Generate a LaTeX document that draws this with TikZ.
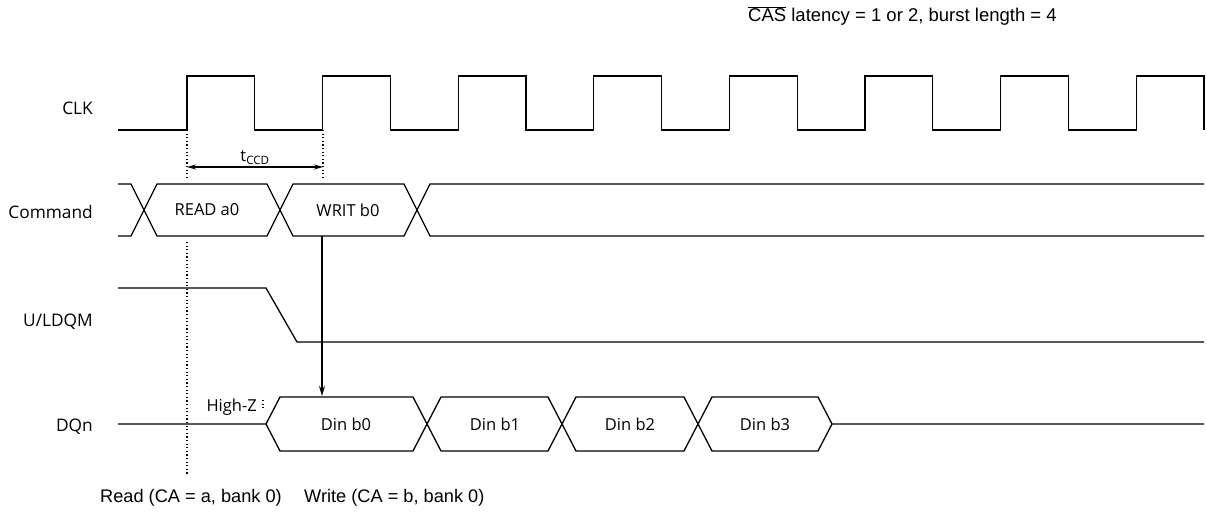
\documentclass[tikz,border=0pt]{standalone}
\usepackage{fontspec}
\setmainfont{Liberation Sans}
\newfontfamily\sigfont{Open Sans}
\usetikzlibrary{arrows.meta}

\begin{document}
\begin{tikzpicture}[
x=1bp, y=-1bp,
sig/.style={line width=1.3bp, line join=miter},
guide/.style={line width=1.2bp, dash pattern=on 1.2bp off 2.4bp},
signame/.style={anchor=east, inner sep=0pt, font=\sigfont\fontsize{17.3bp}{20bp}\selectfont},
val/.style={font=\sigfont\fontsize{16.5bp}{20bp}\selectfont},
note/.style={anchor=west, inner sep=0pt, font=\fontsize{18.2bp}{20bp}\selectfont},
dim/.style={line width=1.2bp, {Stealth[length=9bp,width=5bp]}-{Stealth[length=9bp,width=5bp]}}
]
\useasboundingbox (0,0) rectangle (1207,513);

\node[note, font=\fontsize{18.5bp}{20bp}\selectfont] (cas) at (748,16) {$\overline{\hbox{CAS}}$ latency = 1 or 2, burst length = 4};

\node[signame] (clk) at (93,108) {CLK};
\node[signame] (cmd) at (93,212) {Command};
\node[signame] (dqm) at (93,322) {U/LDQM};
\node[signame] (dq) at (93,427) {DQn};

\draw[sig] (118,130) \foreach \k in {0,...,7} {-- ({187+135.6*\k},130) -- ++(0,-54) -- ++(67.8,0) -- ++(0,54)};

\draw[sig] (118,184) -- (131,184) -- (157,236) -- (267,236) -- (293,184) -- (404,184) -- (430,236) -- (1204,236);
\draw[sig] (118,236) -- (131,236) -- (157,184) -- (267,184) -- (293,236) -- (404,236) -- (430,184) -- (1204,184);
\node[val] (rd) at (207,210) {READ a0};
\node[val] (wr) at (348,210) {WRIT b0};

\draw[sig] (118,288) -- (266,288) -- (297,342) -- (1204,342);

\draw[sig] (118,424) -- (266,424) -- (280,397) -- (413,397) -- (441,451) -- (548,451) -- (576,397) -- (684,397) -- (712,451) -- (818,451) -- (832,424) -- (1204,424);
\draw[sig] (266,424) -- (280,451) -- (413,451) -- (441,397) -- (548,397) -- (576,451) -- (684,451) -- (712,397) -- (818,397) -- (832,424);
\node[val] (d0) at (346,424) {Din b0};
\node[val] (d1) at (495,424) {Din b1};
\node[val] (d2) at (630,424) {Din b2};
\node[val] (d3) at (765,424) {Din b3};
\node[val, anchor=east, inner sep=0pt] (hz) at (257,407) {High-Z};
\draw[guide] (263,400) -- (263,409);

\coordinate (e0) at (187,130);
\coordinate (e0b) at (187,177);
\coordinate (e0c) at (187,242);
\coordinate (e0d) at (187,475);
\coordinate (e1) at (323,130);
\coordinate (e1b) at (323,177);
\draw[guide] (e0) -- (e0b);
\draw[guide] (e0c) -- (e0d);
\draw[guide] (e1) -- (e1b);

\coordinate (ta) at (187,167);
\coordinate (tb) at (323,167);
\draw[dim] (ta) -- node[val, above, inner sep=2bp] (tccd) {t\textsubscript{CCD}} (tb);

\coordinate (wa) at (322,236);
\coordinate (wb) at (322,396);
\draw[sig, -{Stealth[length=10bp,width=6bp]}] (wa) -- (wb);

\node[note] (rdn) at (100,498) {Read (CA = a, bank 0)};
\node[note] (wrn) at (304,498) {Write (CA = b, bank 0)};
\end{tikzpicture}
\end{document}
